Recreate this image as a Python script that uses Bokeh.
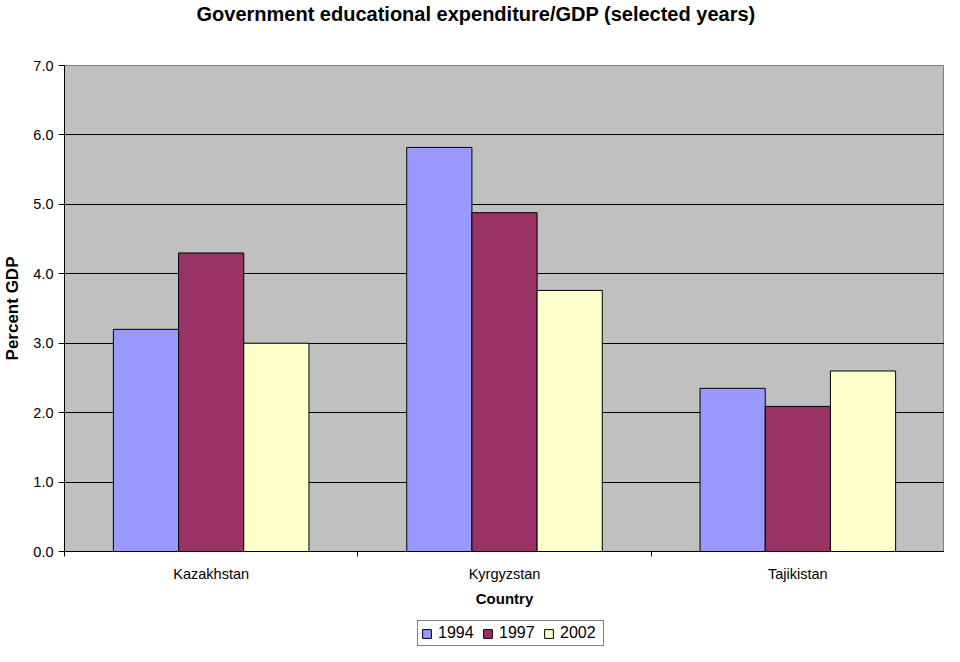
from bokeh.plotting import figure
from bokeh.models import (ColumnDataSource, Range1d, FixedTicker, PrintfTickFormatter,
                          Legend, LegendItem, Title)
from bokeh.layouts import column
from bokeh.embed import file_html
from bokeh.resources import INLINE

countries = ["Kazakhstan", "Kyrgyzstan", "Tajikistan"]
years = ["1994", "1997", "2002"]
v1994 = [3.2, 5.82, 2.35]
v1997 = [4.3, 4.88, 2.09]
v2002 = [3.0, 3.76, 2.6]
colors = ["#9999FF", "#993366", "#FFFFCC"]
y_ticks = [0, 1, 2, 3, 4, 5, 6, 7]

FONT = "Liberation Sans"
W = 944

bar_w = 1 / 4.5
series = [v1994, v1997, v2002]
offsets = [-bar_w, 0, bar_w]


def series_source(vals, off):
    return ColumnDataSource(dict(x=[i + 0.5 + off for i in range(len(countries))], top=vals))


# ---- title strip (frames in a column are aligned, so offsets are from x=61) ----
pt = figure(width=W, height=36, output_backend="svg", toolbar_location=None,
            x_axis_location=None, y_axis_location=None,
            min_border_left=0, min_border_right=0, min_border_top=0, min_border_bottom=0)
pt.outline_line_color = None
pt.xgrid.visible = False
pt.ygrid.visible = False
pt.add_layout(Title(text="Government educational expenditure/GDP  (selected years)", align="left",
                    offset=132, text_font=FONT, text_font_size="20px", text_font_style="bold",
                    text_color="black", standoff=0), "above")

# ---- main chart ----
p = figure(width=W, height=580, output_backend="svg", toolbar_location=None,
           x_range=Range1d(0, len(countries)), y_range=Range1d(0, 7),
           min_border_left=61, min_border_top=29, min_border_bottom=65, min_border_right=0)
p.background_fill_color = "#C0C0C0"
p.border_fill_color = "white"
p.outline_line_color = "#808080"
p.outline_line_width = 1

for vals, off, col in zip(series, offsets, colors):
    p.vbar(x="x", top="top", bottom=0, width=bar_w, source=series_source(vals, off),
           fill_color=col, line_color="black", line_width=1)

p.yaxis.ticker = FixedTicker(ticks=y_ticks)
p.yaxis.formatter = PrintfTickFormatter(format="%.1f")
p.yaxis.major_tick_out = 6
p.yaxis.major_tick_in = 0
p.yaxis.minor_tick_out = 0
p.yaxis.minor_tick_in = 0
p.yaxis.major_label_standoff = 5
p.yaxis.major_label_text_font = FONT
p.yaxis.major_label_text_font_size = "14.5px"
p.yaxis.major_label_text_color = "black"
p.yaxis.axis_line_color = "black"
p.yaxis.major_tick_line_color = "black"
p.yaxis.axis_label = "Percent GDP"
p.yaxis.axis_label_text_font = FONT
p.yaxis.axis_label_text_font_size = "17px"
p.yaxis.axis_label_text_font_style = "bold"
p.yaxis.axis_label_text_color = "black"
p.yaxis.axis_label_standoff = 8

p.xaxis.ticker = FixedTicker(ticks=[i + 0.5 for i in range(len(countries))],
                             minor_ticks=list(range(len(countries) + 1)))
p.xaxis.major_label_overrides = {i + 0.5: c for i, c in enumerate(countries)}
p.xaxis.major_tick_out = 0
p.xaxis.major_tick_in = 0
p.xaxis.minor_tick_out = 5
p.xaxis.minor_tick_in = 0
p.xaxis.minor_tick_line_color = "black"
p.xaxis.major_label_standoff = 9
p.xaxis.major_label_text_font = FONT
p.xaxis.major_label_text_font_size = "14.5px"
p.xaxis.major_label_text_color = "black"
p.xaxis.axis_line_color = "black"
p.xaxis.axis_label = "Country"
p.xaxis.axis_label_text_font = FONT
p.xaxis.axis_label_text_font_size = "15px"
p.xaxis.axis_label_text_font_style = "bold"
p.xaxis.axis_label_text_color = "black"
p.xaxis.axis_label_standoff = 5

p.xgrid.visible = False
p.ygrid.ticker = FixedTicker(ticks=y_ticks[1:-1])
p.ygrid.grid_line_color = "black"
p.ygrid.grid_line_width = 1

# ---- legend strip (series drawn out of view; only the legend shows) ----
pl = figure(width=W, height=30, output_backend="svg", toolbar_location=None,
            x_range=Range1d(0, len(countries)), y_range=Range1d(100, 101),
            x_axis_location=None, y_axis_location=None,
            min_border_left=0, min_border_right=0, min_border_top=0, min_border_bottom=0)
pl.outline_line_color = None
pl.xgrid.visible = False
pl.ygrid.visible = False
items = []
for y, vals, off, col in zip(years, series, offsets, colors):
    r = pl.vbar(x="x", top="top", bottom=0, width=bar_w, source=series_source(vals, off),
                fill_color=col, line_color="black", line_width=1)
    items.append(LegendItem(label=y, renderers=[r]))
legend = Legend(items=items, orientation="horizontal", location=(353, 0),
                glyph_width=11, glyph_height=11, label_text_font=FONT,
                label_text_font_size="16px", label_text_color="black",
                label_height=14, label_width=40,
                label_standoff=6, spacing=4, padding=3, margin=0,
                border_line_color="black", border_line_width=1,
                background_fill_color="white", background_fill_alpha=1)
pl.add_layout(legend, "center")

layout = column(pt, p, pl, spacing=0)
open("out.html", "w").write(file_html(layout, INLINE))
